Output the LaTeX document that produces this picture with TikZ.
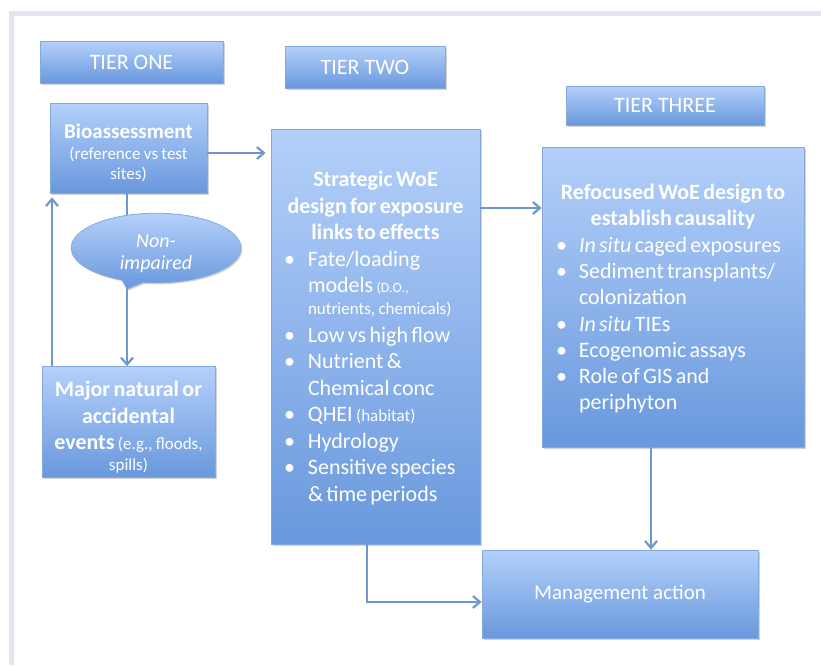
\documentclass[tikz,border=0pt]{standalone}
\usepackage{fontspec}
\setmainfont{Carlito}
\usetikzlibrary{arrows.meta,shadows,shapes.geometric,shapes.callouts}
\definecolor{topc}{HTML}{B4D0FA}
\definecolor{botc}{HTML}{6998DD}
\definecolor{edgec}{HTML}{86A9DC}
\definecolor{arrc}{HTML}{7096CE}
\definecolor{framec}{HTML}{E1E6F2}
\newcommand\bul[1]{\par\noindent\hspace*{-33pt}\makebox[33pt][l]{\hspace*{#1}\textbullet}\ignorespaces}
\tikzset{
  boxc/.style={draw=edgec, line width=0.8pt, top color=topc, bottom color=botc,
    text=white, drop shadow={shadow xshift=1.5pt,shadow yshift=-1.5pt,opacity=0.35,fill=black!50},
    inner sep=4pt},
  tierbox/.style={boxc, font=\fontsize{22}{26}\selectfont},
  arr/.style={draw=arrc, line width=2.4pt, -{Straight Barb[length=7pt,width=12pt,line width=2.2pt]}},
}
\begin{document}
\begin{tikzpicture}[x=1pt,y=-1pt]
\useasboundingbox (0,0) rectangle (821,665);
\fill[framec] (9,11) rectangle (821,16);
\fill[framec] (9,11) rectangle (14,665);

\node[tierbox, minimum width=183pt, minimum height=42pt] (t1) at (131.5,62) {TIER ONE};
\node[tierbox, minimum width=160pt, minimum height=42pt] (t2) at (365,67) {TIER TWO};
\node[tierbox, minimum width=198pt, minimum height=39pt] (t3) at (665,105.5) {TIER THREE};

\node[boxc, minimum width=157pt, minimum height=90pt, text width=149pt] (bio) at (128.5,148)
 {\centering\parindent=0pt
  {\fontsize{21}{21}\selectfont\bfseries\rule{0pt}{25pt}Bioassessment\par}
  \fontsize{17}{20.5}\selectfont (reference vs test\\sites)\par};

\node[boxc, minimum width=173pt, minimum height=108pt, text width=165pt] (major) at (128.5,422)
 {\centering\parindent=0pt\fontsize{22}{26.5}\selectfont
  {\bfseries\rule{0pt}{26pt}Major natural or\\accidental\\events} {\fontsize{17}{20}\selectfont (e.g., floods,}\\[-5.5pt]
  {\fontsize{17}{20}\selectfont spills)}\par};

\node[boxc, minimum width=209pt, minimum height=415pt, text width=201pt] (strat) at (375.5,336.5)
 {\parindent=0pt\fontsize{22}{26.5}\selectfont
  {\centering\bfseries\rule{0pt}{19pt}Strategic WoE\\design for exposure\\links to effects\par}
  \raggedright\leftskip=33pt
  \bul{9pt} Fate/loading\\models {\fontsize{14}{17}\selectfont (D.O.,}\\[-5pt]
     {\fontsize{17}{20}\selectfont nutrients, chemicals)}\\[1.5pt]
  \bul{9pt} Low vs high flow
  \bul{9pt} Nutrient \&\\Chemical conc
  \bul{9pt} QHEI {\fontsize{17}{20}\selectfont (habitat)}
  \bul{9pt} Hydrology
  \bul{9pt} Sensitive species\\\& time periods\par};

\node[boxc, minimum width=262pt, minimum height=300pt, text width=254pt] (refo) at (673,297)
 {\parindent=0pt\fontsize{22}{26.3}\selectfont
  {\centering\bfseries\rule{0pt}{19pt}Refocused WoE design to\\establish causality\par}
  \raggedright\leftskip=33pt
  \bul{10pt} \textit{In situ} caged exposures
  \bul{10pt} Sediment transplants/\\colonization
  \bul{10pt} \textit{In situ} TIEs
  \bul{10pt} Ecogenomic assays
  \bul{10pt} Role of GIS and\\periphyton\par};

\node[tierbox, minimum width=276pt, minimum height=88pt, font=\fontsize{21}{25}\selectfont] (mgmt) at (620,594) {Management action};

% connectors
\draw[arr, shorten >=5pt] ([yshift=-5pt]bio.east) -- ([yshift=-5pt]bio.east -| strat.west);
\draw[arr] (strat.east |- 0,208) -- (refo.west |- 0,208);
\draw[arr] (refo.south -| 651,0) -- (mgmt.north -| 651,0);
\draw[arr] (strat.south -| 367,0) |- ([yshift=-8pt]mgmt.west);
\draw[arr] (bio.south -| 127,0) -- (major.north -| 127,0);
\draw[arr, shorten >=4pt] (major.north -| 52,0) -- (bio.south -| 52,0);

\node[boxc, ellipse callout, callout absolute pointer={(127,289)}, minimum width=150pt, minimum height=60pt,
  inner sep=0pt, text width=120pt, font=\fontsize{20}{22}\selectfont\itshape] (ni) at (156,248)
  {\centering\rule{0pt}{24pt}Non-\\impaired\par};
\end{tikzpicture}
\end{document}
